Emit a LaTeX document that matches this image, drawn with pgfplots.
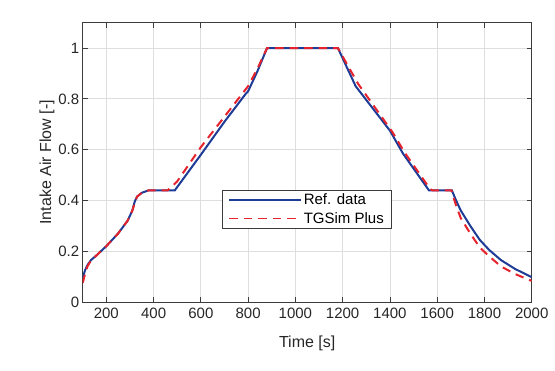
\documentclass[border=0pt]{standalone}
\usepackage{pgfplots}
\pgfplotsset{compat=1.18}
\usepackage{fontspec}
\setmainfont{Liberation Sans}
\definecolor{refblue}{RGB}{30,60,150}
\definecolor{simred}{RGB}{230,35,45}
\definecolor{gridgray}{RGB}{222,222,222}
\definecolor{framegray}{RGB}{60,60,60}
\begin{document}
\begin{tikzpicture}[x=1pt,y=1pt]
\path[use as bounding box] (0,0) rectangle (555,371);
\begin{axis}[
  at={(82.7pt,69pt)}, anchor=south west,
  scale only axis, width=449pt, height=279.3pt,
  xmin=100, xmax=2000, ymin=0, ymax=1.1,
  xtick={200,400,...,2000}, ytick={0,0.2,...,1},
  yticklabels={0,0.2,0.4,0.6,0.8,1},
  scaled x ticks=false,
  xticklabel style={/pgf/number format/1000 sep={}, yshift=-3pt},
  /pgf/number format/assume math mode=true,
  tick label style={font=\fontsize{15}{17}\selectfont, text=black!85},
  label style={font=\fontsize{16}{18}\selectfont, text=black!85},
  xlabel={Time [s]}, ylabel={Intake Air Flow [-]},
  xlabel style={yshift=-10pt},
  ylabel style={yshift=-3pt},
  grid=major, major grid style={gridgray, line width=0.8pt},
  axis line style={framegray, line width=0.8pt},
  tick style={framegray, line width=0.8pt},
  tick align=inside, major tick length=5pt,
  xtick pos=both, ytick pos=both,
  legend style={at={(0.31,0.401)}, anchor=north west, draw=framegray, line width=0.8pt,
    font=\fontsize{15}{17}\selectfont, inner xsep=6pt, inner ysep=1.5pt,
    row sep=2pt, cells={anchor=west}},
  legend image code/.code={\draw[#1, line width=1.5pt] (0pt,0pt) -- (72pt,0pt);},
]
\addplot[refblue, line width=2pt] coordinates {
(100,0.095)(110,0.125)(120,0.145)(135,0.165)(160,0.185)(200,0.22)(250,0.27)(290,0.32)(310,0.36)(320,0.395)(330,0.415)(350,0.43)(380,0.44)(490,0.44)(600,0.58)(700,0.71)(790,0.82)(800,0.83)(840,0.91)(880,1.0)(1180,1.0)(1255,0.85)(1400,0.675)(1455,0.585)(1565,0.44)(1662,0.44)(1680,0.40)(1700,0.36)(1740,0.30)(1780,0.245)(1820,0.205)(1870,0.165)(1930,0.13)(2000,0.098)
};
\addlegendentry{Ref. data}
\addplot[simred, line width=2pt, dash pattern=on 8.5pt off 6pt] coordinates {
(100,0.075)(110,0.11)(120,0.14)(135,0.163)(160,0.185)(200,0.22)(250,0.27)(290,0.32)(310,0.36)(320,0.39)(330,0.415)(350,0.43)(380,0.44)(460,0.44)(500,0.475)(600,0.61)(700,0.73)(800,0.85)(840,0.92)(880,1.0)(1180,1.0)(1265,0.86)(1410,0.67)(1465,0.585)(1570,0.445)(1580,0.44)(1660,0.44)(1680,0.38)(1700,0.33)(1740,0.27)(1780,0.215)(1820,0.18)(1870,0.14)(1930,0.11)(2000,0.083)
};
\addlegendentry{TGSim Plus}
\end{axis}
\end{tikzpicture}
\end{document}
